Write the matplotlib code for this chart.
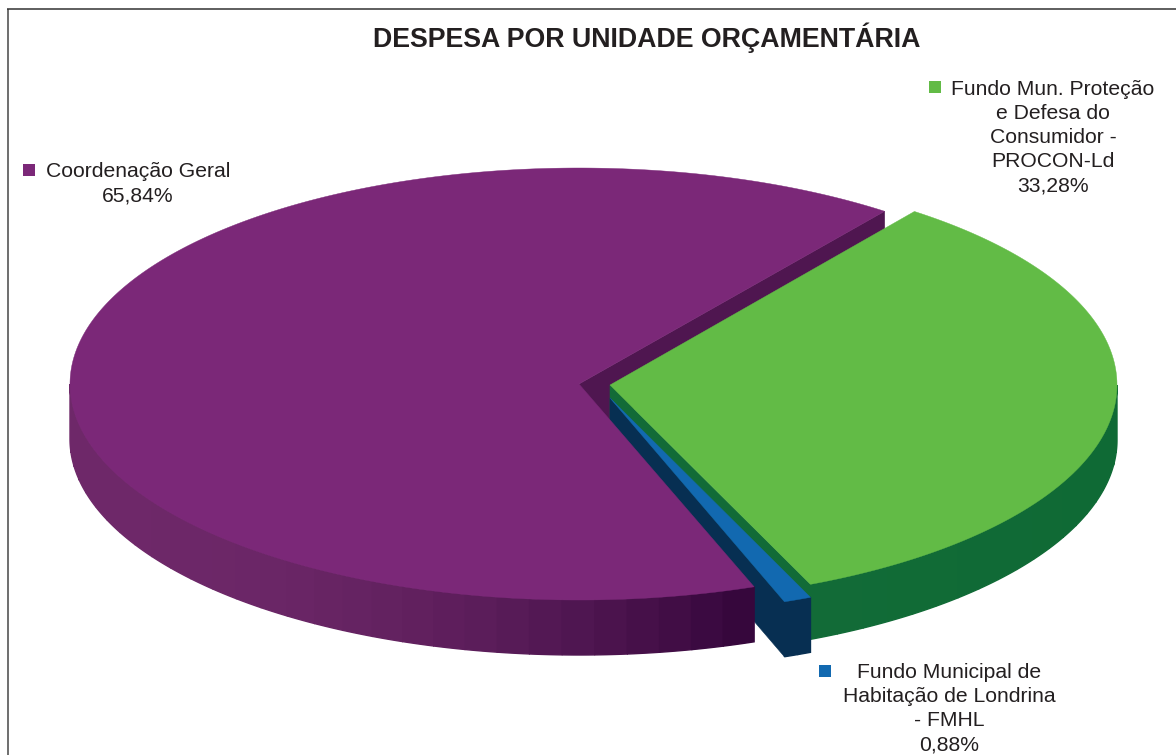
import numpy as np
import matplotlib
matplotlib.use("Agg")
import matplotlib.pyplot as plt
from matplotlib.colors import to_rgb

TITLE = "DESPESA POR UNIDADE ORÇAMENTÁRIA"
CATEGORIES = ["Fundo Mun. Proteção\ne Defesa do\nConsumidor -\nPROCON-Ld",
              "Fundo Municipal de\nHabitação de Londrina\n- FMHL",
              "Coordenação Geral"]
VALUES = [33.28, 0.88, 65.84]
VALUE_LABELS = ["33,28%", "0,88%", "65,84%"]

plt.rcParams["font.family"] = ["Liberation Sans", "DejaVu Sans"]
TOP = ["#62BB46", "#1269B0", "#7B2878"]
WALL = ["#126B37", "#072F52", "#4F1650"]
SIDE_L = ["#126B37", "#072F52", "#6E2869"]
SIDE_R = ["#0F6A35", "#072F52", "#33053A"]
CENTRE = [(610, 385), (610, 398), (579, 384)]
RX = [507, 507, 509]
RY = [217, 217, 216]
DEPTH = 55
START = 53.1
TEXT_POS = [(1053, 137.5), (949, 708.5), (138, 183.5)]
MARK_POS = [(934.5, 86.5), (824.5, 671), (28.5, 169.5)]
TEXT_COL = "#231F20"

fig = plt.figure(figsize=(11.76, 7.55), dpi=100)
ax = fig.add_axes([0, 0, 1, 1])
ax.set_xlim(0, 1176)
ax.set_ylim(755, 0)
ax.axis("off")

ax.plot([7.5, 7.5], [755, 9], color="#6E6E6E", lw=1.4, zorder=1, solid_capstyle="butt")
ax.plot([7, 1176], [9, 9], color="#333333", lw=1.1, zorder=1, solid_capstyle="butt")


def pt(i, deg, dz=0.0):
    a = np.radians(deg)
    return CENTRE[i][0] + RX[i] * np.cos(a), CENTRE[i][1] - RY[i] * np.sin(a) + dz


spans = np.array(VALUES) / sum(VALUES) * 360
edges = START - np.concatenate([[0], np.cumsum(spans)])
ranges = [(edges[i + 1], edges[i]) for i in range(3)]


def wall(i, deg, z):
    c = CENTRE[i]
    p = pt(i, deg)
    ax.fill([c[0], p[0], p[0], c[0]], [c[1], p[1], p[1] + DEPTH, c[1] + DEPTH],
            color=WALL[i], lw=0.4, zorder=z)


def rim(i, a0, a1, z, power, bands):
    angs = np.linspace(a0, a1, bands + 1)
    x0, x1 = pt(i, a0)[0], pt(i, a1)[0]
    xl, xr = min(x0, x1), max(x0, x1)
    cl, cr = np.array(to_rgb(SIDE_L[i])), np.array(to_rgb(SIDE_R[i]))
    for a, b in zip(angs[:-1], angs[1:]):
        fine = np.linspace(a, b, 12)
        xy = np.array([pt(i, f) for f in fine])
        t = np.clip((xy[:, 0].mean() - xl) / max(xr - xl, 1), 0, 1)
        ax.fill(np.r_[xy[:, 0], xy[::-1, 0]], np.r_[xy[:, 1], xy[::-1, 1] + DEPTH],
                color=tuple(cl + (cr - cl) * t ** power), lw=1.0, zorder=z)


def top(i, z):
    lo, hi = ranges[i]
    xy = np.array([pt(i, a) for a in np.linspace(lo, hi, 400)])
    c = CENTRE[i]
    ax.fill(np.r_[c[0], xy[:, 0]], np.r_[c[1], xy[:, 1]], color=TOP[i], lw=0.3, zorder=z)


# Purple's inner wall lies behind the other two slices
wall(2, ranges[2][0], 2)
# Green
wall(0, ranges[0][0], 3)
rim(0, ranges[0][0], 0, 3, 1.0, 20)
top(0, 3.5)
# Blue
wall(1, ranges[1][0], 4)
rim(1, ranges[1][0], ranges[1][1], 4, 1.0, 2)
top(1, 4.5)
# Purple rim and top in front
rim(2, -180, ranges[2][1], 5, 2.2, 30)
top(2, 5.5)

ax.text(647, 38, TITLE, ha="center", va="center", fontsize=19.25, fontweight="bold", color=TEXT_COL, zorder=10)
for i in range(3):
    ax.text(*TEXT_POS[i], CATEGORIES[i] + "\n" + VALUE_LABELS[i], ha="center", va="center",
            fontsize=15.2, color=TEXT_COL, linespacing=1.34, zorder=10)
    ax.plot(*MARK_POS[i], marker="s", ms=8, color=TOP[i], mew=0, zorder=10)

fig.savefig("out.png", dpi=100, facecolor="white")
